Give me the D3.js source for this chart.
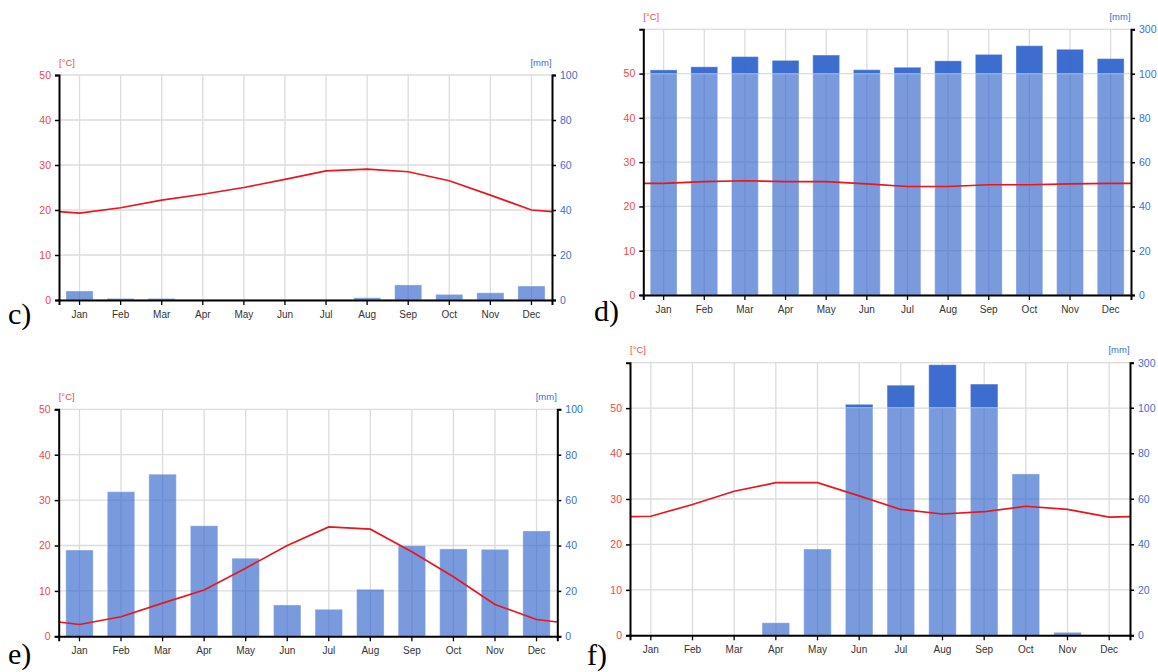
<!DOCTYPE html>
<html>
<head>
<meta charset="utf-8">
<script src="https://cdn.jsdelivr.net/npm/d3@7"></script>
<style>
  html, body { margin: 0; padding: 0; background: #fff; }
  svg { display: block; font-family: "Liberation Sans", Arial, sans-serif; }
</style>
</head>
<body>
<svg id="chart" width="1158" height="672"></svg>
<script>
// ---------- data ----------
const months = ["Jan","Feb","Mar","Apr","May","Jun","Jul","Aug","Sep","Oct","Nov","Dec"];

const tempTicks = [0, 10, 20, 30, 40, 50];
const precipTicksSmall = [0, 20, 40, 60, 80, 100];
const precipTicksLarge = [0, 20, 40, 60, 80, 100, 300];

// panel c
const tempC   = [19.3, 20.5, 22.2, 23.5, 25.0, 26.8, 28.7, 29.1, 28.5, 26.5, 23.3, 20.0];
const precipC = [4.0, 0.7, 0.7, 0, 0, 0, 0, 1.0, 6.7, 2.5, 3.2, 6.2];
// panel d
const tempD   = [25.2, 25.6, 25.8, 25.6, 25.6, 25.1, 24.5, 24.5, 24.9, 24.9, 25.1, 25.2];
const precipD = [117, 131, 177, 160, 184, 118, 129, 158, 187, 226, 210, 168];
// panel e
const tempE   = [2.6, 4.3, 7.3, 10.2, 15.0, 20.0, 24.1, 23.6, 18.6, 13.1, 7.0, 3.7];
const precipE = [38.0, 63.7, 71.4, 48.7, 34.4, 13.8, 11.9, 20.7, 39.9, 38.5, 38.3, 46.4];
// panel f
const tempF   = [26.2, 28.8, 31.7, 33.6, 33.6, 30.7, 27.7, 26.7, 27.2, 28.4, 27.7, 26.0];
const precipF = [0, 0, 0, 5.5, 37.9, 115, 200, 291, 205, 70.9, 1.3, 0];

// ---------- layout (pixel positions of each panel) ----------
const layout = [
  { label: "c)", temp: tempC, precip: precipC, big: false,
    x0: 59, x1: 552, yBase: 300, yTop: 75, y100: 75,
    unitY: 65.5, monthY: 318.5, labelX: 8, labelY: 324 },
  { label: "d)", temp: tempD, precip: precipD, big: true,
    x0: 643.3, x1: 1131, yBase: 295, yTop: 29.3, y100: 73.7,
    unitY: 19.5, monthY: 313.5, labelX: 594, labelY: 321 },
  { label: "e)", temp: tempE, precip: precipE, big: false,
    x0: 58.7, x1: 557.3, yBase: 636.3, yTop: 409.3, y100: 409.3,
    unitY: 399.5, monthY: 654.5, labelX: 8, labelY: 664 },
  { label: "f)", temp: tempF, precip: precipF, big: true,
    x0: 630, x1: 1130, yBase: 635.3, yTop: 362.7, y100: 407.7,
    unitY: 352.5, monthY: 653.5, labelX: 587, labelY: 665 }
];

const RED = "#e8161e";
const RED_TXT = "#f04848";
const BLUE_TXT = "#3d6ed6";
const BAR = "#3366cc";
const GRID = "#dcdcdc";

const svg = d3.select("#chart");

function drawPanel(p) {
  const g = svg.append("g");
  const tMax = p.big ? 60 : 50;

  const x = d3.scaleBand().domain(months).range([p.x0, p.x1])
    .paddingInner(0.34).paddingOuter(0.17);
  const cx = m => x(m) + x.bandwidth() / 2;
  const yT = d3.scaleLinear().domain([0, tMax]).range([p.yBase, p.yTop]);
  const yP = p.big
    ? d3.scaleLinear().domain([0, 100, 300]).range([p.yBase, p.y100, p.yTop])
    : d3.scaleLinear().domain([0, 100]).range([p.yBase, p.yTop]);

  // grid
  const hLines = p.big ? tempTicks.concat([60]) : tempTicks;
  g.append("g").selectAll("line").data(hLines).join("line")
    .attr("x1", p.x0).attr("x2", p.x1)
    .attr("y1", d => yT(d)).attr("y2", d => yT(d))
    .attr("stroke", GRID).attr("stroke-width", 1.3);
  g.append("g").selectAll("line").data(months).join("line")
    .attr("x1", cx).attr("x2", cx)
    .attr("y1", p.yBase).attr("y2", p.yTop)
    .attr("stroke", GRID).attr("stroke-width", 1.3);

  // bars (light part up to 100 mm)
  const rows = months.map((m, i) => ({ m, p: p.precip[i], t: p.temp[i] }));
  g.append("g").selectAll("rect").data(rows.filter(d => d.p > 0)).join("rect")
    .attr("x", d => x(d.m)).attr("width", x.bandwidth())
    .attr("y", d => yP(Math.min(d.p, 100)))
    .attr("height", d => yP(0) - yP(Math.min(d.p, 100)))
    .attr("fill", BAR).attr("fill-opacity", 0.66)
    .attr("stroke", "#ffffff").attr("stroke-opacity", 0.35).attr("stroke-width", 1);
  // dark part above 100 mm
  g.append("g").selectAll("rect").data(rows.filter(d => d.p > 100)).join("rect")
    .attr("x", d => x(d.m)).attr("width", x.bandwidth())
    .attr("y", d => yP(d.p))
    .attr("height", d => yP(100) - yP(d.p))
    .attr("fill", BAR).attr("fill-opacity", 0.95)
    .attr("stroke", "#ffffff").attr("stroke-opacity", 0.35).attr("stroke-width", 1);

  // temperature line, wrapped to the edges
  const edge = (p.temp[0] + p.temp[11]) / 2;
  const pts = [[p.x0, yT(edge)]]
    .concat(rows.map(d => [cx(d.m), yT(d.t)]))
    .concat([[p.x1, yT(edge)]]);
  g.append("path").attr("d", d3.line()(pts))
    .attr("fill", "none").attr("stroke", RED).attr("stroke-width", 1.7);

  // axes
  const left = g.append("g").attr("transform", `translate(${p.x0},0)`)
    .call(d3.axisLeft(yT).tickValues(tempTicks).tickSize(4).tickSizeOuter(4).tickPadding(4)
      .tickFormat(d3.format("d")));
  left.select(".domain").attr("stroke", "#000").attr("stroke-width", 2);
  left.selectAll(".tick line").attr("stroke", "#000").attr("stroke-width", 1.5);
  left.selectAll("text").attr("fill", RED_TXT).attr("font-size", 10.5)
    .attr("font-family", "Liberation Sans, Arial, sans-serif");

  const right = g.append("g").attr("transform", `translate(${p.x1},0)`)
    .call(d3.axisRight(yP).tickValues(p.big ? precipTicksLarge : precipTicksSmall)
      .tickSize(4).tickSizeOuter(4).tickPadding(4).tickFormat(d3.format("d")));
  right.select(".domain").attr("stroke", "#000").attr("stroke-width", 2);
  right.selectAll(".tick line").attr("stroke", "#000").attr("stroke-width", 1.5);
  right.selectAll("text").attr("fill", BLUE_TXT).attr("font-size", 10.5)
    .attr("font-family", "Liberation Sans, Arial, sans-serif");

  const bottom = g.append("g").attr("transform", `translate(0,${p.yBase})`)
    .call(d3.axisBottom(x).tickSize(5).tickSizeOuter(5).tickPadding(6));
  bottom.select(".domain").attr("stroke", "#000").attr("stroke-width", 2);
  bottom.selectAll(".tick line").attr("stroke", "#000").attr("stroke-width", 1.3);
  bottom.selectAll("text").attr("fill", "#333").attr("font-size", 10)
    .attr("font-family", "Liberation Sans, Arial, sans-serif");

  // unit labels
  g.append("text").attr("x", p.x0 + 8).attr("y", p.unitY)
    .attr("text-anchor", "middle").attr("font-size", 9.5).attr("fill", RED_TXT)
    .text("[°C]");
  g.append("text").attr("x", p.x1 - 11).attr("y", p.unitY)
    .attr("text-anchor", "middle").attr("font-size", 9.5).attr("fill", BLUE_TXT)
    .text("[mm]");

  // panel letter
  g.append("text").attr("x", p.labelX).attr("y", p.labelY)
    .attr("font-family", "Liberation Serif, Times New Roman, serif")
    .attr("font-size", 30).attr("fill", "#000")
    .text(p.label);
}

layout.forEach(drawPanel);
</script>
</body>
</html>
